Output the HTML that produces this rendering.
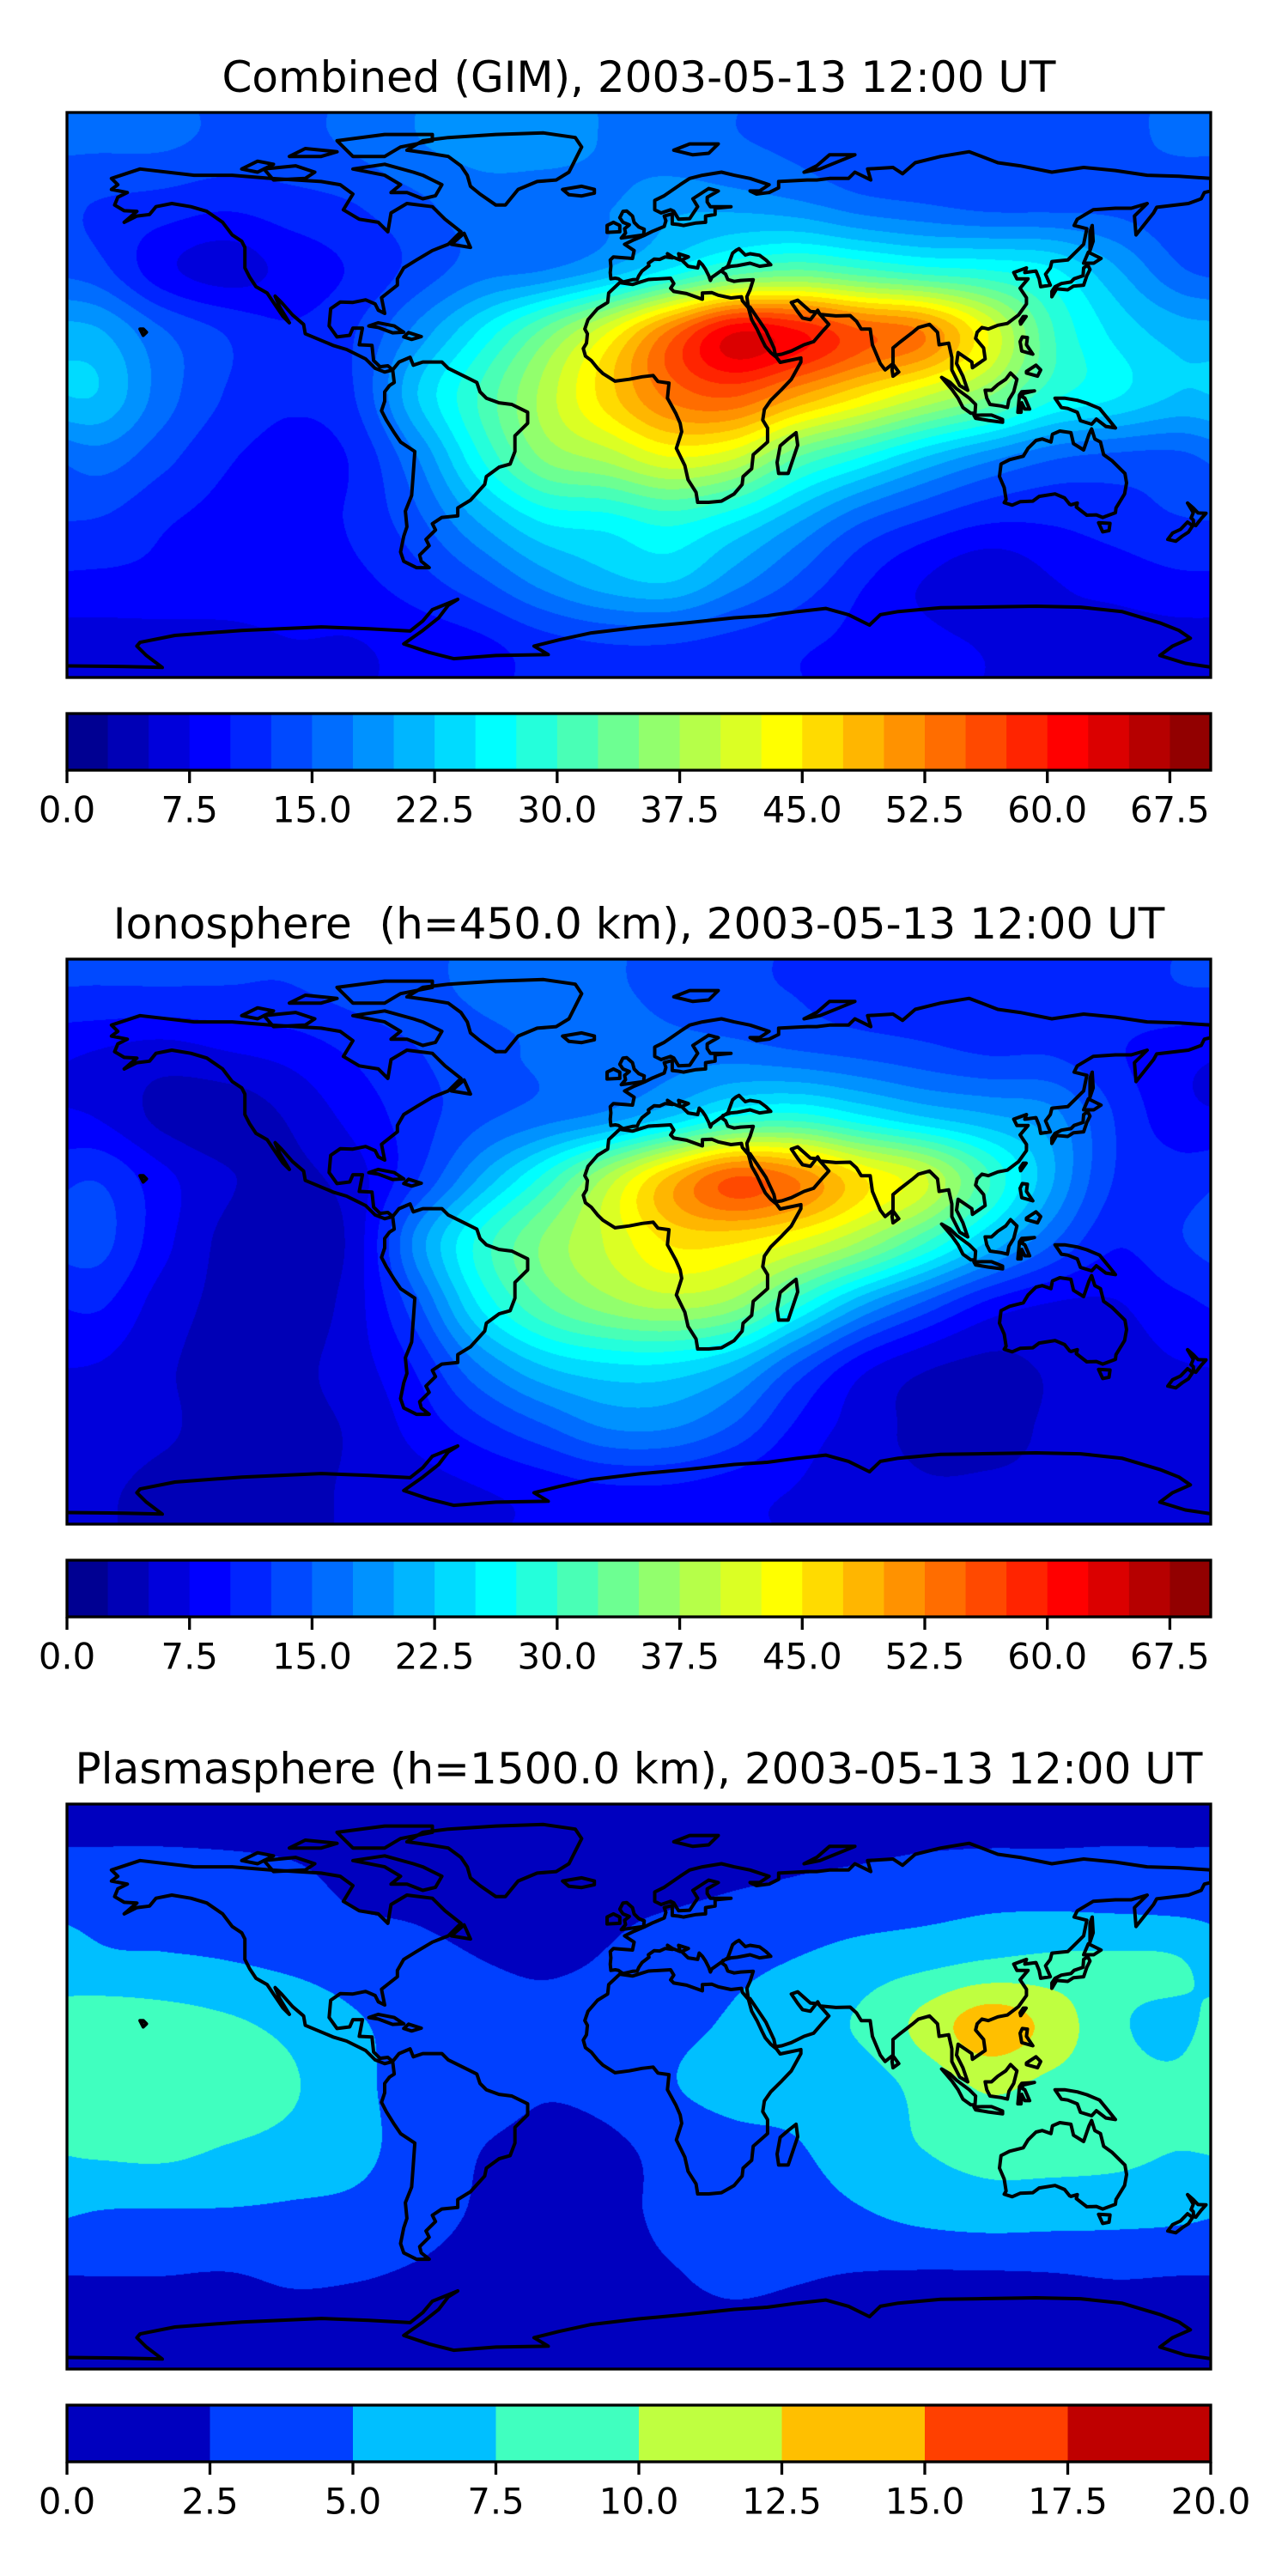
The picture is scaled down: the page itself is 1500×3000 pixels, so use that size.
<!DOCTYPE html>
<html><head><meta charset="utf-8">
<style>
html,body{margin:0;padding:0;background:#fff;}
#wrap{position:relative;width:1500px;height:3000px;overflow:hidden;background:#fff;font-family:"DejaVu Sans","Liberation Sans",sans-serif;}
canvas{position:absolute;left:78px;}
#ov{position:absolute;left:0;top:0;}
</style></head>
<body>
<div id="wrap">
<canvas id="c0" width="1332" height="658" style="top:131px"></canvas>
<canvas id="c1" width="1332" height="658" style="top:1117px"></canvas>
<canvas id="c2" width="1332" height="658" style="top:2101px"></canvas>
<svg id="ov" width="1500" height="3000" xmlns="http://www.w3.org/2000/svg">
<text x="744" y="90" text-anchor="middle" dominant-baseline="central" font-size="50">Combined (GIM), 2003-05-13 12:00 UT</text>
<text x="744" y="1076" text-anchor="middle" dominant-baseline="central" font-size="50" xml:space="preserve">Ionosphere  (h=450.0 km), 2003-05-13 12:00 UT</text>
<text x="744" y="2060" text-anchor="middle" dominant-baseline="central" font-size="50">Plasmasphere (h=1500.0 km), 2003-05-13 12:00 UT</text>
</svg>
</div>
<script>
// ---- data grids: rows lat 80..-80 (step 20), cols lon -170..170 (step 20) ----
const gridLats=[80,60,40,20,0,-20,-40,-60,-80];
const gridLons=[-170,-150,-130,-110,-90,-70,-50,-30,-10,10,30,50,70,90,110,130,150,170];
const gimValues=[
[15,15,14,14,15,17,18,18,17,16,15,14,13,13,13,13,14,15],
[12,11,10,11,12,14,16,16,17,19,19,18,16,15,14,14,14,13],
[13,8,6,8,10,13,16,17,20,25,30,32,30,28,27,25,20,15],
[20,15,12,10,12,18,25,33,42,53,62,60,55,52,42,30,24,21],
[22,16,12,10,12,22,30,38,46,53,55,50,45,40,35,28,25,22],
[16,13,10,9,10,17,27,35,38,42,40,32,27,22,18,15,14,14],
[12,10,9,9,10,14,20,25,26,28,25,20,15,12,10,10,11,12],
[9,9,9,9,9,11,14,18,21,22,18,14,10,7,5,7,8,9],
[6,6,6,7,7,8,9,11,12,12,11,10,9,8,7,7,6,6]];
const ionoValues=[
[12,12,12,12,13,14,15,15,15,14,13,12,11,11,11,11,11,12],
[7,6,7,8,10,12,14,15,16,16,16,15,14,13,12,12,10,8],
[7,4,3,5,8,11,14,16,18,22,27,28,25,22,20,18,12,8],
[12,8,5,4,6,12,20,28,38,48,55,52,45,40,30,20,12,11],
[13,8,4,3,5.5,18,28,35,40,45,45,42,37,30,22,15,10,12],
[10,6,4,3,6,14,25,32,36,38,36,28,20,14,9,7,7,9],
[7,5,4,4,6,10,17,22,24,24,21,14,8,5,4,5,6,7],
[6,5,4,4,5,8,11,14,17,17,14,9,6,4,4,5,6,6],
[5,4,4,4,5,6,7,8,9,9,8,7,6,5,5,5,5,5]];
const plasValues=[
[2.0,2.0,1.9,1.8,1.6,1.5,1.4,1.4,1.5,1.6,1.7,1.8,1.8,1.9,1.9,1.9,2.0,2.0],
[3.5,3.5,3.5,3,2,1.8,1.5,1.5,1.8,2,2.3,2.6,3,3.5,4,4,3.8,3.6],
[5.3,5,4.7,4.2,3.5,2.8,2.2,2,2.3,3.2,4,4.8,5.8,6.5,7.3,7.7,7.6,7.3],
[8.5,8.3,7.6,6.5,5,3.8,3,2.5,3,4,5,6.3,7.5,10.5,13.5,11.3,7.6,6.8],
[9,9.2,9,7.5,5.5,3.5,3,2.3,2.8,4.5,5.5,5.5,6,8,10,9,8,7.5],
[7.6,7.8,7,6.3,5.5,3.5,2.2,1.8,1.8,2.8,3.8,4.5,6,7.2,8,8,7.8,7.2],
[4.6,4.5,4.5,4.3,4,3,2,1.8,1.8,2.5,3,3.5,4.5,5.5,6,5.8,5.6,5.3],
[2.2,2.2,2.1,2.4,2.3,2,1.6,1.6,1.8,2.1,2.4,2.3,2.1,2,2,2.1,2.3,2.2],
[1.8,1.8,1.8,1.8,1.8,1.8,1.8,1.8,1.8,1.9,1.9,1.8,1.8,1.8,1.8,1.8,1.8,1.8]];
const tickLabelsTec=["0.0","7.5","15.0","22.5","30.0","37.5","45.0","52.5","60.0","67.5"];
const tickValuesTec=[0,7.5,15,22.5,30,37.5,45,52.5,60,67.5];
const tickLabelsPlas=["0.0","2.5","5.0","7.5","10.0","12.5","15.0","17.5","20.0"];
const tickValuesPlas=[0,2.5,5,7.5,10,12.5,15,17.5,20];

// ---- coastlines [lon,lat,...] ----
const coasts=[
[-166,69,-157,72,-140,70,-128,70,-116,69,-100,68,-94,67,-90,64,-93,59,-88,56,-82,55,-79,52,-78,58,-73,61,-65,60,-61,56,-56,52,-60,48,-65,46,-70,43,-74,40.5,-76,37,-76,35,-81,31,-80,26,-82,27,-83,29,-86,30.3,-90,29.5,-94,29.6,-97,27.5,-97.5,22,-95,18.5,-91,19,-90,21.3,-87,21.3,-88,16,-84,15.8,-83.5,11,-81.5,9,-79,9.3,-77.5,8,-80,7.3,-83,8.5,-86,11.5,-92,14.5,-96,15.7,-105,19.5,-105.5,22.5,-109,25.5,-112.5,29.5,-114.5,31.5,-113,28,-110,23,-112,25,-115,29.5,-117,32.5,-120.5,34.5,-122.5,37.5,-124,40.5,-124,47,-125,49,-128,51,-131,55,-136,58.5,-141,60,-147,61,-152,60,-154,57.5,-158,57,-162,55,-158,58.5,-162,58.7,-165,60.5,-164,63,-161,64.5,-166,65.5,-164,67,-166,69],
[-77.5,8,-75.5,10.5,-72,12,-71,9.5,-68,10.5,-62,10.5,-60,8.5,-55,6,-51,4,-50,1,-48,-1,-44,-2.5,-40,-3,-35,-5.5,-35,-9,-39,-13,-39,-18,-40.5,-22,-44,-23,-48,-26,-48.5,-28.5,-53,-33.5,-57,-36,-57,-38.5,-62,-39,-65,-41,-64,-43,-67,-46,-66,-48,-69,-51,-68.5,-53,-66,-55,-70,-55,-74,-53,-75,-50,-74,-45,-73,-42,-73.5,-37,-71.5,-32,-71,-25,-70.5,-18,-75,-15,-77,-12,-79.5,-8,-81,-5,-80,-2,-80,1,-78.5,3,-77,4,-77.5,8],
[-73,78,-68,81,-60,82,-45,83,-30,83.5,-20,82,-18,79,-20,75,-22,71,-26,68.5,-32,68,-38,65.5,-42,60.5,-45,60.5,-50,64,-53,66.5,-54,70,-56,73,-60,76,-66,77,-73,78],
[-90,72,-80,73.5,-71,71,-68,70,-62,67,-64,63.5,-68,62.5,-73,64.5,-78,64.5,-75,67,-80,70,-90,72],
[-118,72,-108,73,-102,71,-105,69,-115,68.5,-118,72],
[-90,76,-80,76,-75,79,-65,81,-65,83,-80,83,-95,81,-90,76],
[-125,72,-120,74.5,-115,73.5,-120,71,-125,72],
[-100,76,-95,77.5,-105,78.5,-110,76,-100,76],
[-24,65.5,-18,66.5,-14,65.5,-14,64.3,-18,63.4,-22,63.8,-24,65.5],
[-5.5,50,1.5,51,1.7,52.8,0,53.5,-1.5,55,-2,57,-3.8,58.6,-5,58.5,-6,56.5,-5,55,-3,54.2,-4.5,53,-4.2,51.6,-5.5,50],
[-6,52,-6,54,-8,55,-10,54,-10,51.8,-6,52],
[-9,43,-8,44,-2,43.5,-1.5,46,-4.5,48,-1.5,49.5,2,51,4,52,8,53.7,8.5,55.5,8,57,10.5,57.7,10.5,54.5,12.5,54.3,14,54,18,54.8,21,55,21,57,24,57.5,24,59.5,29,60,22.5,60,21.5,61.5,21.5,63,25,65,22,65.8,17,62.5,18.5,60,16,56.2,12.5,56,11,58.5,10,59,7,58,5,59,5,62,8,63.5,13,67,16,69,20,70,26,71,30,70,35,69,41,67,38,65,35,65,37,64,41,64.5,44,66,44,68,53,68.5,56,68.5,60,69,66,69,68,71,73,68.5,72,72,80,72.5,83,70.5,87,74,95,76,104,77.5,113,74,120,73,130,71,140,72.5,150,71.5,160,70,170,69.7,180,69,180,65,178,64.5,177,62.5,173,61,163,59.8,162,58,156.5,51,156,57,160,61,155,59.5,150,59.5,143,59,138,56,137,54,141,53,140,48,135,43,130,42.5,129.5,40.5,128,38.5,129.5,35,126.5,34.5,126,37,125,39.5,121.5,39,122,40.5,118,39,119,37,122.5,37,120,34,122,31,122,29,119.5,25.5,116,22.8,113,22.2,110,21,108,21.5,106.5,20,106,18,108.5,15,109,11.5,105,8.7,104.8,10.5,100.5,13.5,100,10,102,6,103.5,1.5,101,3,98.5,8,98.5,12,97.5,16.5,94.5,16,94,20,91.5,22.5,88,21.5,86,19.8,82,16.7,80,15,80,10,77.5,8,76,10,73.5,16,72.8,21,70,21,68.5,23.5,66.5,25.3,62,25.2,57,25.7,56.3,27,54,24,51.5,24.5,50,26.5,48,29.5,50,30.2,54,26.6,56.4,26.4,59.8,22.5,58,20.5,55,17,52,16,48,14,45,13,43,12.7,42.5,15,40,20.5,37,25,35,28,34.5,27.8,34,31.3,35,33.5,36,36.7,32,36.5,30,36.2,28,36.8,27.3,38.5,26.2,39.3,26.5,40.2,29,41,31,41.2,35,42,38,41,41.5,41.5,40,43,38,44.5,35,45,33.5,44.6,31.5,46.6,30.5,46,29.5,45.2,28,41,26.5,40,23.7,38,23,37.5,22.5,36.5,22,38,21,40,20,41.5,19,42.5,18.5,40.5,15.5,41,13.5,43,15.6,44,12.5,45,13,43,10.6,44,9,45,9.5,44,10.5,43.7,8.3,44,6.6,43.2,4.8,43.3,3,42,3.2,41.2,1,39.5,0,38,-0.5,36.8,-2,36.7,-5,36,-6.4,37,-7.4,37.2,-8.8,37,-9,39,-8.8,41,-9,43],
[-17,21,-16,24,-13,27.5,-9.8,29.5,-9.5,32.5,-6,35.8,-2,35.2,3,36.8,10,37.2,11,35.5,10,34,11,33,15,32.3,20,30.5,20,32.5,23,32.6,25,31.8,29,30.9,32.3,31.3,32.6,30,34.5,27.8,35.5,24,37.2,21,38.8,17.5,39.8,15.5,41.5,13.5,43.3,12,44.5,10.4,51,11.8,51,10.5,48,5,45,1.8,41.5,-1.7,39.5,-4.6,39,-8,40.5,-10.5,40.5,-15,36,-19,35.5,-23.5,32.8,-26,32.5,-28.5,30,-31.5,26,-33.8,22,-34.2,18.5,-34.2,18,-31,15.5,-27,14.5,-22.5,11.8,-17,13.5,-11.7,13,-9,11.7,-6,9,-1,9.5,3.8,6,4.3,4.5,6.2,1,5.8,-3,5,-7.5,4.4,-11.3,6.8,-13,8.5,-15,11,-16.8,12.4,-17.5,14.8,-16.5,16.5,-16.2,19.5,-17,21],
[44,-25,47,-25,50,-16,49.5,-12,47,-14,44.5,-16.2,43.5,-21.5,44,-25],
[80,6,81.8,7.3,80,9.8,79.7,8,80,6],
[130,31.3,131.5,33.8,135,33.5,136.8,34.7,140,35,141,38,142,40,141.3,41.4,140,40.5,139.8,38,137,37,136,36,133,35.5,131,34.5,130,33,130,31.3],
[140,42,141.5,45.5,145.5,43.5,143.2,42,140,42],
[142,46,143,49,142.7,54,142,52,142,46],
[120.2,22.6,121.9,25,121,25,120,23.5,120.2,22.6],
[120.5,14,120,17,120.7,18.5,122.3,18.3,122,16,124,13,120.5,14],
[122,7,125.5,6,126.5,8,125,9.5,122,7.5,122,7],
[109,1.5,111,1.5,113,3.3,115.5,5,117,7,119,5,118,1,116.5,-1.5,116,-4,114,-3.5,110.5,-3,109.5,-1,109,1.5],
[95.3,5.6,98,4,100,2,104,-1,106,-3,105.8,-5.8,104.5,-5.8,102,-4,100.5,-1,98.6,1.7,95.3,5.6],
[105.5,-6.5,108,-6.4,111,-6.4,114.5,-7.8,114.5,-8.7,110,-8.1,106,-7.4,105.5,-6.5],
[119.3,-5.5,119.8,0,120.5,1,124.5,1.3,121,0.5,120.5,-0.5,121.5,-1,123,-4.5,121.5,-4.5,120.5,-2.5,120.3,-5.5,119.3,-5.5],
[131,-1,134,-1,138,-1.7,141,-2.6,145,-4.3,148,-8,150,-10.5,147,-10,144,-7.7,142.5,-9.3,139,-8.2,138,-5.5,135,-4.3,133,-4,132,-2.5,131,-1],
[114,-22,116.7,-20.6,121,-19.5,122.5,-17,125,-14.5,127,-14,129.7,-15,130.2,-12.5,132.5,-11.5,136,-12,136.8,-15.5,140,-17.5,141.7,-12.5,142.5,-10.8,143.5,-14,145.3,-15,146.3,-19,149,-21,153,-25,153.5,-28,152.9,-31.5,150.2,-36,150,-37.5,146,-39,144,-38.2,141,-38.3,137.7,-35.7,138,-34.4,136,-35,135.6,-34.8,134,-32.8,131,-31.5,126,-32.3,124,-33.8,120,-34,117.5,-35.1,115,-34.3,115.6,-33.3,115,-29.5,113.5,-26,114,-22],
[144.7,-40.7,148.3,-40.9,148,-43.2,146,-43.6,144.7,-40.7],
[172.7,-34.4,174.5,-36,176,-37.6,178.5,-37.7,177,-39.4,175.3,-41.6,174.6,-41.3,174.5,-39.8,173.8,-39.2,174.5,-37.5,172.7,-34.4],
[172.7,-40.5,174.3,-41.7,173,-43.7,171,-45,169,-46.6,166.5,-46,168,-44,170.5,-42.8,172.7,-40.5],
[52,71,56,73,60,76.5,68,76.5,57,72,52,71],
[11,78,16,80,25,80,22,77,17,76.5,11,78],
[-85,22,-82,23,-77,22,-74,20,-77.5,19.8,-82,21.5,-85,22],
[-74,18.5,-72.5,19.9,-68.5,18.6,-71.5,17.7,-74,18.5],
[-59,48,-55,51.5,-53,47,-59,48],
[-156,19,-155,20,-156,21,-157,21,-156,19]
];
const antarctica=[-180,-86.3,-162,-86.5,-150,-86.8,-155,-83,-158,-80,-157,-78.8,-146,-76.6,-125,-75,-100,-73.9,-85,-74.5,-72,-75.2,-68,-72,-65,-68.4,-57,-65.1,-60,-67,-63,-71,-68,-75,-74,-79.3,-66,-82,-58.3,-84,-45,-83,-28.5,-82.7,-33,-80,-25,-78,-15,-75.8,0,-74,15,-72.6,30,-71,40.4,-70.3,50,-69,58.8,-68,66,-70,72.6,-73.3,76,-70,81.7,-69,95,-67.8,107,-67.6,125,-67.3,139,-67.6,152,-69,164,-72.6,170,-75,173.6,-77.5,168,-80,164,-83,172,-85.5,180,-86.7];

const MX=78, MW=1332, MH=658;
const maps=[
 {canvas:'c0',top:131,grid:gimValues,vmin:0,vmax:70,n:28,ticks:tickValuesTec,labels:tickLabelsTec,name:'combined'},
 {canvas:'c1',top:1117,grid:ionoValues,vmin:0,vmax:70,n:28,ticks:tickValuesTec,labels:tickLabelsTec,name:'ionosphere'},
 {canvas:'c2',top:2101,grid:plasValues,vmin:0,vmax:20,n:8,ticks:tickValuesPlas,labels:tickLabelsPlas,name:'plasmasphere'}
];
function jet(t){const c=x=>Math.max(0,Math.min(1,x));return [c(1.5-Math.abs(4*t-3)),c(1.5-Math.abs(4*t-2)),c(1.5-Math.abs(4*t-1))];}
function cr(p0,p1,p2,p3,t){return 0.5*((2*p1)+(-p0+p2)*t+(2*p0-5*p1+4*p2-p3)*t*t+(-p0+3*p1-3*p2+p3)*t*t*t);}
const NS='http://www.w3.org/2000/svg';
const svg=document.getElementById('ov');

maps.forEach(m=>{
  const cols=[];for(let i=0;i<m.n;i++){cols.push(jet((i+0.5)/m.n).map(v=>Math.round(v*255)));}
  const cv=document.getElementById(m.canvas);const ctx=cv.getContext('2d');
  const img=ctx.createImageData(MW,MH);const d=img.data;
  const nr=gridLats.length,nc=gridLons.length;const step=(m.vmax-m.vmin)/m.n;
  const off=step*0.13;
  const colv=new Float64Array(nc);
  for(let y=0;y<MH;y++){
    const lat=90-(y+0.5)/MH*180;let fy=(gridLats[0]-lat)/20;
    let iy=Math.floor(fy);const ty=fy-iy;
    const r=k=>Math.max(0,Math.min(nr-1,k));
    for(let j=0;j<nc;j++){colv[j]=cr(m.grid[r(iy-1)][j],m.grid[r(iy)][j],m.grid[r(iy+1)][j],m.grid[r(iy+2)][j],ty);}
    for(let x=0;x<MW;x++){
      const lon=-180+(x+0.5)/MW*360;const fx=(lon-gridLons[0])/20;
      const ix=Math.floor(fx);const tx=fx-ix;const w=k=>((k%nc)+nc)%nc;
      const v=cr(colv[w(ix-1)],colv[w(ix)],colv[w(ix+1)],colv[w(ix+2)],tx)+off;
      let b=Math.floor((v-m.vmin)/step);b=Math.max(0,Math.min(m.n-1,b));
      const o=(y*MW+x)*4;d[o]=cols[b][0];d[o+1]=cols[b][1];d[o+2]=cols[b][2];d[o+3]=255;
    }
  }
  ctx.putImageData(img,0,0);

  const cpId='clip-'+m.name;
  const cp=document.createElementNS(NS,'clipPath');cp.setAttribute('id',cpId);
  const cr2=document.createElementNS(NS,'rect');cr2.setAttribute('x',MX);cr2.setAttribute('y',m.top);cr2.setAttribute('width',MW);cr2.setAttribute('height',MH);
  cp.appendChild(cr2);svg.appendChild(cp);
  const g=document.createElementNS(NS,'g');g.setAttribute('clip-path','url(#'+cpId+')');
  
  
  const px=lon=>MX+(lon+180)/360*MW, py=lat=>m.top+(90-lat)/180*MH;
  const mk=(arr,tag)=>{const el=document.createElementNS(NS,tag);let pts=[];for(let i=0;i<arr.length;i+=2)pts.push(px(arr[i]).toFixed(1)+','+py(arr[i+1]).toFixed(1));
    el.setAttribute('points',pts.join(' '));el.setAttribute('fill','none');el.setAttribute('stroke','#000');el.setAttribute('stroke-width','4');el.setAttribute('stroke-linejoin','round');return el;};
  coasts.forEach(c=>{const el=mk(c,'polygon');
    
    
    g.appendChild(el);});
  const an=mk(antarctica,'polyline');
  
  
  g.appendChild(an);
  svg.appendChild(g);
  const fr=document.createElementNS(NS,'rect');fr.setAttribute('x',MX);fr.setAttribute('y',m.top);fr.setAttribute('width',MW);fr.setAttribute('height',MH);
  fr.setAttribute('fill','none');fr.setAttribute('stroke','#000');fr.setAttribute('stroke-width','3.3');
  
  
  svg.appendChild(fr);

  const cbTop=m.top+MH+42, cbH=66;
  const sx=v=>MX+(v-m.vmin)/(m.vmax-m.vmin)*MW;
  const cg=document.createElementNS(NS,'g');
  
  
  for(let i=0;i<m.n;i++){const r=document.createElementNS(NS,'rect');
    const x0=sx(m.vmin+i*step),x1=sx(m.vmin+(i+1)*step);
    r.setAttribute('x',x0);r.setAttribute('y',cbTop);r.setAttribute('width',x1-x0+0.6);r.setAttribute('height',cbH);
    r.setAttribute('fill','rgb('+cols[i].join(',')+')');
    
    
    cg.appendChild(r);}
  const cf=document.createElementNS(NS,'rect');cf.setAttribute('x',MX);cf.setAttribute('y',cbTop);cf.setAttribute('width',MW);cf.setAttribute('height',cbH);
  cf.setAttribute('fill','none');cf.setAttribute('stroke','#000');cf.setAttribute('stroke-width','3.3');
  
  
  cg.appendChild(cf);
  m.ticks.forEach((t,k)=>{const x=sx(t);
    const ln=document.createElementNS(NS,'line');ln.setAttribute('x1',x);ln.setAttribute('x2',x);ln.setAttribute('y1',cbTop+cbH);ln.setAttribute('y2',cbTop+cbH+15);
    ln.setAttribute('stroke','#000');ln.setAttribute('stroke-width','3.3');
    
    
    cg.appendChild(ln);
    const tx=document.createElementNS(NS,'text');tx.setAttribute('x',x);tx.setAttribute('y',cbTop+cbH+46);
    tx.setAttribute('text-anchor','middle');tx.setAttribute('dominant-baseline','central');tx.setAttribute('font-size','41.7');
    tx.textContent=m.labels[k];
    
    
    cg.appendChild(tx);});
  svg.appendChild(cg);
});
</script>
</body></html>
